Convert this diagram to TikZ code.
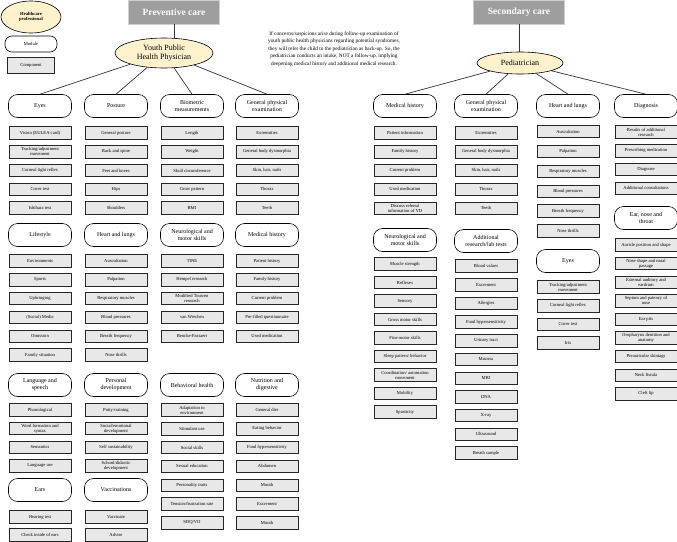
\documentclass[tikz,border=0pt]{standalone}
\usepackage{fontspec}
\setmainfont{Liberation Serif}
\usetikzlibrary{shapes.geometric}
\definecolor{profyellow}{HTML}{FFF2CC}
\definecolor{compgray}{HTML}{E8E8E8}
\definecolor{hdrgray}{HTML}{9E9E9E}
\definecolor{hdrborder}{HTML}{CFCFCF}
\tikzset{
  mod/.style={draw, rounded corners=9pt, fill=white, minimum width=63pt, minimum height=23pt, align=center, font=\fontsize{6}{7}\selectfont, inner sep=1pt, line width=0.6pt},
  comp/.style={draw=black!85, fill=compgray, minimum width=62pt, minimum height=12.5pt, align=center, font=\fontsize{4.6}{5}\selectfont, inner sep=0.5pt, line width=0.8pt},
  prof/.style={ellipse, draw, fill=profyellow, align=center, inner sep=0pt, line width=0.6pt},
  hdr/.style={fill=hdrgray, draw=hdrborder, line width=0.8pt, text=white, font=\fontsize{9.5}{11}\selectfont\bfseries, minimum width=91pt, minimum height=24pt},
  link/.style={line width=0.7pt, draw=black!80}
}
\begin{document}
\begin{tikzpicture}[x=1pt,y=-1pt]
\useasboundingbox (0,0) rectangle (677,541);
% legend
\node[prof, minimum width=60pt, minimum height=32pt, font=\fontsize{4.6}{5.5}\selectfont\bfseries] (lgprof) at (31,17) {Healthcare\\professional};
\node[mod, minimum width=52pt, minimum height=16pt, rounded corners=7pt, font=\fontsize{4.6}{5.5}\selectfont] (lgmod) at (31,44) {Module};
\node[comp, minimum width=47pt, minimum height=16pt, font=\fontsize{4.6}{5.5}\selectfont] (lgcomp) at (31,65) {Component};
% headers
\node[hdr] (prev) at (174,12) {Preventive care};
\node[hdr] (sec) at (519,12) {Secondary care};
\node[prof, minimum width=98pt, minimum height=30pt, font=\fontsize{8}{9.5}\selectfont] (yphp) at (164,53) {Youth Public\\Health Physician};
\node[prof, minimum width=86pt, minimum height=22pt, font=\fontsize{8}{9.5}\selectfont] (ped) at (520,63) {Pediatrician};
\draw[link] (prev.south) -- (yphp.north -| prev.south);
\draw[link] (sec.south) -- (ped.north -| sec.south);
\node[align=center, font=\fontsize{5.3}{7.5}\selectfont] (note) at (334,49) {If concerns/suspicions arise during follow-up examination of\\youth public health physicians regarding potential syndromes,\\they will refer the child to the pediatrician as back-up. So, the\\pediatrician conducts an intake, NOT a follow-up, implying\\deepening medical history and additional medical research.};

% ---------- LEFT: row 1 ----------
\node[mod] (la) at (40,106) {Eyes};
\node[mod] (lb) at (116,106) {Posture};
\node[mod] (lc) at (192,106) {Biometric\\measurements};
\node[mod] (ld) at (267,106) {General physical\\examination};
\foreach \t [count=\i] in {Vision (EULEA card), Tracking/adjustment\\movement, Corneal light reflex, Cover test, Ishihara test}
  \node[comp] (la\i) at (40,{133+18.75*(\i-1)}) {\t};
\foreach \t [count=\i] in {General posture, Back and spine, Feet and knees, Hips, Shoulders}
  \node[comp] (lb\i) at (116,{133+18.75*(\i-1)}) {\t};
\foreach \t [count=\i] in {Length, Weight, Skull circumference, Grow pattern, BMI}
  \node[comp] (lc\i) at (192,{133+18.75*(\i-1)}) {\t};
\foreach \t [count=\i] in {Extremities, General body dysmorphia, {Skin, hair, nails}, Thorax, Teeth}
  \node[comp] (ld\i) at (267,{133+18.75*(\i-1)}) {\t};
\draw[link] (yphp) -- (la.north);
\draw[link] (yphp) -- (lb.north);
\draw[link] (yphp) -- (lc.north);
\draw[link] (yphp) -- (ld.north);

% ---------- LEFT: row 2 ----------
\node[mod] (le) at (40,235) {Lifestyle};
\node[mod] (lf) at (116,235) {Heart and lungs};
\node[mod] (lg) at (192,235) {Neurological and\\motor skills};
\node[mod] (lh) at (267,235) {Medical history};
\foreach \t [count=\i] in {Environments, Sports, Upbringing, (Social) Media, Omission, Family situation}
  \node[comp] (le\i) at (40,{261+18.8*(\i-1)}) {\t};
\foreach \t [count=\i] in {Auscultation, Palpation, Respiratory muscles, Blood pressures, Breath frequency, Nose thrills}
  \node[comp] (lf\i) at (116,{261+18.8*(\i-1)}) {\t};
\foreach \t [count=\i] in {TINE, Hempel research, Modified Touwen\\research, van Wiechen, Bencke-Fassaert}
  \node[comp] (lg\i) at (192,{261+18.8*(\i-1)}) {\t};
\foreach \t [count=\i] in {Patient history, Family history, Current problem, Pre-filled questionnaire, Used medication}
  \node[comp] (lh\i) at (267,{261+18.8*(\i-1)}) {\t};

% ---------- LEFT: row 3 ----------
\node[mod] (li) at (40,385) {Language and\\speech};
\node[mod] (lj) at (116,385) {Personal\\development};
\node[mod] (lk) at (192,385) {Behavioral health};
\node[mod] (ll) at (267,385) {Nutrition and\\digestive};
\foreach \t [count=\i] in {Phonological, Word formation and\\syntax, Semantics, Language use}
  \node[comp] (li\i) at (40,{410+18.6*(\i-1)}) {\t};
\foreach \t [count=\i] in {Potty-training, Social/emotional\\development, Self sustainability, School/didactic\\development}
  \node[comp] (lj\i) at (116,{410+18.6*(\i-1)}) {\t};
\foreach \t [count=\i] in {Adaptation to\\environment, Stimulant use, Social skills, Sexual education, Personality traits, Tension/frustration rate, SDQ/VO}
  \node[comp] (lk\i) at (192,{410+18.8*(\i-1)}) {\t};
\foreach \t [count=\i] in {General diet, Eating behavior, Food hypersensitivity, Abdomen, Mouth, Excrement, Mouth}
  \node[comp] (ll\i) at (267,{410+18.8*(\i-1)}) {\t};
\node[mod] (lm) at (40,490) {Ears};
\node[mod] (ln) at (116,490) {Vaccinations};
\node[comp] (lm1) at (40,517) {Hearing test};
\node[comp] (lm2) at (40,535) {Check inside of ears};
\node[comp] (ln1) at (116,517) {Vaccinate};
\node[comp] (ln2) at (116,535) {Advise};

% ---------- RIGHT ----------
\node[mod] (ra) at (405,106) {Medical history};
\node[mod] (rb) at (486,106) {General physical\\examination};
\node[mod] (rc) at (568,106) {Heart and lungs};
\node[mod] (rd) at (646,106) {Diagnosis};
\draw[link] (ped) -- (ra.north);
\draw[link] (ped) -- (rb.north);
\draw[link] (ped) -- (rc.north);
\draw[link] (ped) -- (rd.north);
\foreach \t [count=\i] in {Patient information, Family history, Current problem, Used medication, Discuss referral\\information of YD}
  \node[comp] (ra\i) at (405,{133+18.8*(\i-1)}) {\t};
\foreach \t [count=\i] in {Extremities, General body dysmorphia, {Skin, hair, nails}, Thorax, Teeth}
  \node[comp] (rb\i) at (486,{133+18.8*(\i-1)}) {\t};
\foreach \t [count=\i] in {Auscultation, Palpation, Respiratory muscles, Blood pressures, Breath frequency, Nose thrills}
  \node[comp] (rc\i) at (568,{131.5+19.9*(\i-1)}) {\t};
\foreach \t [count=\i] in {Results of additional\\research, Prescribing medication, Diagnose, Additional consultations}
  \node[comp] (rd\i) at (646,{132+18.8*(\i-1)}) {\t};

\node[mod] (re) at (405,240) {Neurological and\\motor skills};
\node[mod] (rf) at (486,241) {Additional\\research/lab tests};
\node[mod] (rg) at (568,261) {Eyes};
\node[mod] (rh) at (646,218) {Ear, nose and\\throat};
\foreach \t [count=\i] in {Muscle strength, Reflexes, Sensory, Gross motor skills, Fine motor skills, Sleep pattern/ behavior, Coordination/ automation\\movement, Mobility, Spasticity}
  \node[comp] (re\i) at (405,{264+18.5*(\i-1)}) {\t};
\foreach \t [count=\i] in {Blood values, Excrement, Allergies, Food hypersensitivity, Urinary tract, Mucosa, MRI, DNA, X-ray, Ultrasound, Breath sample}
  \node[comp] (rf\i) at (486,{266+18.7*(\i-1)}) {\t};
\foreach \t [count=\i] in {Tracking/adjustment\\movement, Corneal light reflex, Cover test, Iris}
  \node[comp] (rg\i) at (568,{287+18.7*(\i-1)}) {\t};
\foreach \t [count=\i] in {Auricle position and shape, Nose shape and nasal\\passage, External auditory and\\eardrum, Septum and patency of\\nose, Ear pits, Oropharynx dentition and\\anatomy, Preauricular skintags, Neck fistula, Cleft lip}
  \node[comp] (rh\i) at (646,{245+18.6*(\i-1)}) {\t};
\end{tikzpicture}
\end{document}
